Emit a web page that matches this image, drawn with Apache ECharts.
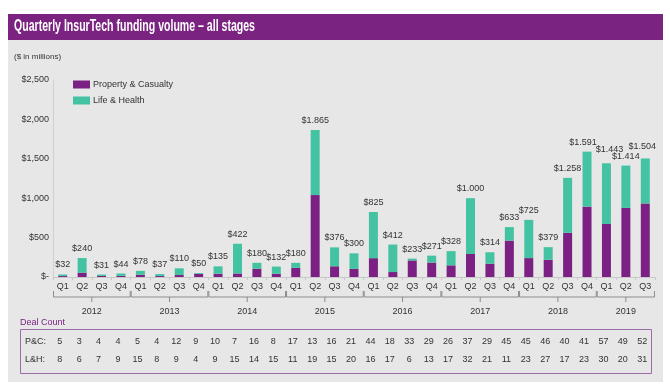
<!DOCTYPE html>
<html><head><meta charset="utf-8">
<script src="https://cdn.jsdelivr.net/npm/echarts@6/dist/echarts.min.js"></script>
<style>html,body{margin:0;padding:0;background:#fff}#c{width:670px;height:391px}</style>
</head><body><div id="c"></div>
<script>
// ---- data ----
const quarters = ['Q1','Q2','Q3','Q4','Q1','Q2','Q3','Q4','Q1','Q2','Q3','Q4','Q1','Q2','Q3','Q4',
  'Q1','Q2','Q3','Q4','Q1','Q2','Q3','Q4','Q1','Q2','Q3','Q4','Q1','Q2','Q3'];
const years = ['2012','2013','2014','2015','2016','2017','2018','2019'];
const quartersPerYear = [4,4,4,4,4,4,4,3];
const totals = [32,240,31,44, 78,37,110,50, 135,422,180,132, 180,1865,376,300,
  825,412,233,271, 328,1000,314,633, 725,379,1258,1591, 1443,1414,1504];
const pcValues = [12,55,13,14, 28,12,25,40, 42,45,105,41, 117,1040,136,103,
  239,63,210,183, 148,292,169,462, 240,219,562,893, 673,877,933];
const lhValues = [20,185,18,30, 50,25,85,10, 93,377,75,91, 63,825,240,197,
  586,349,23,88, 180,708,145,171, 485,160,696,698, 770,537,571];
const pcDeals = [5,3,4,4, 5,4,12,9, 10,7,16,8, 17,13,16,21, 44,18,33,29, 26,37,29,45, 45,46,40,41, 57,49,52];
const lhDeals = [8,6,7,9, 15,8,9,4, 9,15,14,15, 11,19,15,20, 16,17,6,13, 17,32,21,11, 23,27,17,23, 30,20,31];
const yTicks = [0,500,1000,1500,2000,2500];
const seriesNames = ['Property & Casualty','Life & Health'];
const titleText = 'Quarterly InsurTech funding volume \u2013 all stages';

// ---- styles ----
const PURPLE = '#7a2183', TEAL = '#43c3a2', TXT = '#333', FONT = 'Liberation Sans, Arial, sans-serif';
const labelLift = {28: 4, 30: 2};
const labelShift = {27: -4, 28: 3, 30: -3};

function fmtTotal(v){ return '$' + String(v).replace(/\B(?=(\d{3})+(?!\d))/g, '.'); }
function fmtAxis(v){ return v === 0 ? '$-' : '$' + v.toLocaleString('en-US'); }

const chart = echarts.init(document.getElementById('c'));
chart.setOption({
  animation: false,
  backgroundColor: '#fff',
  textStyle: {fontFamily: FONT},
  grid: {left: 53, right: 15, top: 80, bottom: 114},
  legend: {
    orient: 'vertical', left: 73, top: 80, padding: 0, itemWidth: 17, itemHeight: 8, itemGap: 7,
    icon: 'rect', data: seriesNames,
    textStyle: {fontSize: 9, color: TXT, fontFamily: FONT, padding: [0,0,0,-2]}
  },
  xAxis: {
    type: 'category', data: quarters,
    axisLine: {lineStyle: {color: '#c8c8c8'}},
    axisTick: {show: true, length: 3, lineStyle: {color: '#c8c8c8'}},
    axisLabel: {fontSize: 9, color: TXT, margin: 5, interval: 0}
  },
  yAxis: {
    type: 'value', min: yTicks[0], max: yTicks[yTicks.length-1], interval: yTicks[1]-yTicks[0],
    axisLine: {show: true, lineStyle: {color: '#d0d0d0'}},
    axisTick: {show: false}, splitLine: {show: false},
    axisLabel: {fontSize: 9, color: TXT, margin: 4, formatter: fmtAxis}
  },
  series: [
    {name: seriesNames[0], type: 'bar', stack: 't', data: pcValues, barWidth: 9,
     itemStyle: {color: PURPLE}},
    {name: seriesNames[1], type: 'bar', stack: 't', barWidth: 9,
     data: lhValues.map((v,i) => ({value: v, label: {distance: 5 + (labelLift[i]||0), offset: [labelShift[i]||0, 0]}})),
     itemStyle: {color: TEAL},
     label: {show: true, position: 'top', fontSize: 9, color: TXT,
       formatter: p => fmtTotal(totals[p.dataIndex])}}
  ]
});

// ---- annotations derived from the axes ----
const xs = quarters.map((q,i) => chart.convertToPixel({xAxisIndex:0}, i));
const band = xs[1] - xs[0];
const g = [];
g.push({type:'rect', z:-10, shape:{x:8, y:40, width:655, height:342}, style:{fill:'#e7e7e7'}});
g.push({type:'rect', z:-10, shape:{x:8, y:14, width:655, height:26}, style:{fill:'#7a2381'}});
g.push({type:'text', x:14, y:27, scaleX:0.66, style:{text:titleText, x:0, y:0, fill:'#fff',
  font:'bold 16px ' + FONT, verticalAlign:'middle'}});
g.push({type:'text', x:14, y:57, style:{text:'($ in millions)', fill:TXT, font:'8px ' + FONT, verticalAlign:'middle'}});

let start = 0;
const BY = 297, BC = '#8c8c8c';
years.forEach((yr, k) => {
  const n = quartersPerYear[k];
  const x0 = xs[start] - band/2 + 0.5, x1 = xs[start+n-1] + band/2 - 0.5;
  const xc = (x0 + x1)/2;
  g.push({type:'polyline', shape:{points:[[x0,BY-6],[x0,BY],[x1,BY],[x1,BY-6]]}, style:{stroke:BC, lineWidth:1, fill:null}});
  g.push({type:'line', shape:{x1:xc, y1:BY, x2:xc, y2:BY+5}, style:{stroke:BC, lineWidth:1}});
  g.push({type:'text', x:xc, y:312, style:{text:yr, fill:TXT, font:'9px ' + FONT, align:'center', verticalAlign:'middle'}});
  start += n;
});

g.push({type:'text', x:20, y:323, style:{text:'Deal Count', fill:PURPLE, font:'9px ' + FONT, verticalAlign:'middle'}});
g.push({type:'rect', shape:{x:20.5, y:329.5, width:631, height:44}, style:{fill:null, stroke:'#9b6ba3', lineWidth:1}});
g.push({type:'text', x:25, y:342, style:{text:'P&C:', fill:TXT, font:'9px ' + FONT, verticalAlign:'middle'}});
g.push({type:'text', x:25, y:360, style:{text:'L&H:', fill:TXT, font:'9px ' + FONT, verticalAlign:'middle'}});
pcDeals.forEach((v,i) => g.push({type:'text', x:xs[i]-3, y:342, style:{text:String(v), fill:TXT, font:'9px ' + FONT, align:'center', verticalAlign:'middle'}}));
lhDeals.forEach((v,i) => g.push({type:'text', x:xs[i]-3, y:360, style:{text:String(v), fill:TXT, font:'9px ' + FONT, align:'center', verticalAlign:'middle'}}));

chart.setOption({graphic: g});
</script></body></html>
